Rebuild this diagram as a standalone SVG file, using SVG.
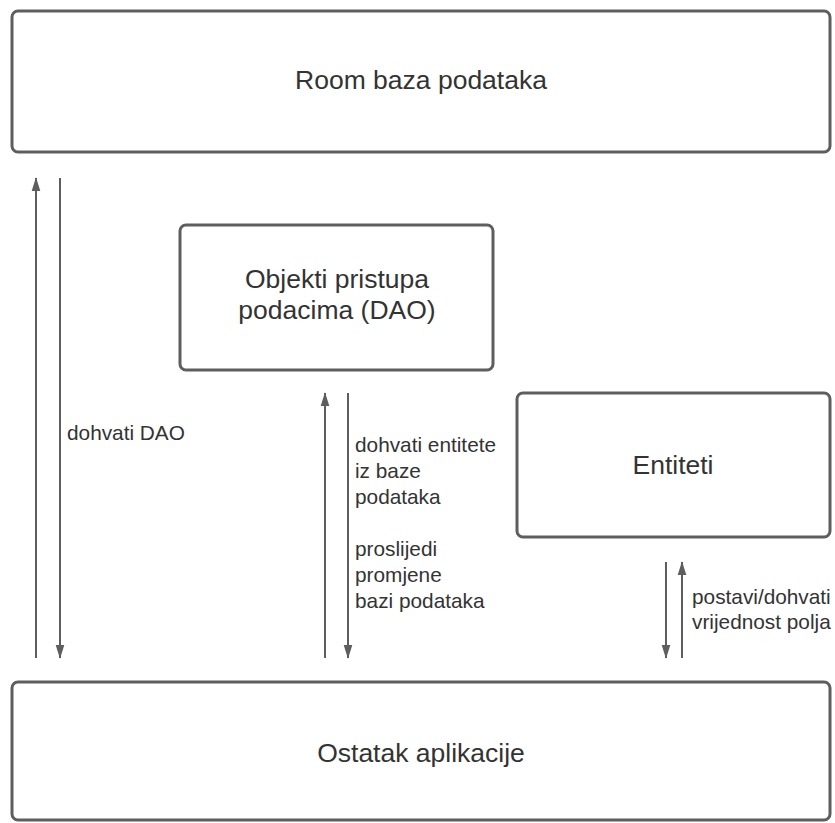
<svg xmlns="http://www.w3.org/2000/svg" width="835" height="823" viewBox="0 0 835 823">
<style>
.box{fill:#fff;stroke:#5e5e5e;stroke-width:3}
.t{font-family:"Liberation Sans",Arial,sans-serif;fill:#333;text-anchor:middle;font-size:26.5px}
.l{font-family:"Liberation Sans",Arial,sans-serif;fill:#333;font-size:20.8px}
.c{stroke:#5e5e5e;stroke-width:2;fill:none}
</style>
<defs>
<marker id="ah" markerUnits="userSpaceOnUse" markerWidth="14" markerHeight="22" viewBox="0 0 22 14" refX="21" refY="7" orient="auto">
<path d="M0,0 L22,7 L0,14 Z" fill="#5e5e5e"/>
</marker>
</defs>
<rect width="835" height="823" fill="#fff"/>
<g id="room"><rect class="box" x="12" y="11" width="818" height="141" rx="6"/><text class="t" x="421" y="89">Room baza podataka</text></g>
<g id="dao"><rect class="box" x="180" y="225" width="313" height="145" rx="6"/><text class="t" x="337" y="288">Objekti pristupa</text><text class="t" x="337" y="319">podacima (DAO)</text></g>
<g id="entiteti"><rect class="box" x="517" y="393" width="313" height="144" rx="6"/><text class="t" x="673" y="474">Entiteti</text></g>
<g id="ostatak"><rect class="box" x="12" y="682" width="818" height="138" rx="6"/><text class="t" x="421" y="762">Ostatak aplikacije</text></g>
<g id="connectors">
<line class="c" x1="36" y1="658" x2="36" y2="178" marker-end="url(#ah)"/>
<line class="c" x1="60" y1="178" x2="60" y2="658" marker-end="url(#ah)"/>
<line class="c" x1="325" y1="658" x2="325" y2="393" marker-end="url(#ah)"/>
<line class="c" x1="348" y1="393" x2="348" y2="658" marker-end="url(#ah)"/>
<line class="c" x1="666" y1="562" x2="666" y2="658" marker-end="url(#ah)"/>
<line class="c" x1="682" y1="658" x2="682" y2="562" marker-end="url(#ah)"/>
<text class="l" x="67" y="440">dohvati DAO</text>
<text class="l" x="355" y="452">dohvati entitete</text>
<text class="l" x="355" y="478">iz baze</text>
<text class="l" x="355" y="504">podataka</text>
<text class="l" x="355" y="556">proslijedi</text>
<text class="l" x="355" y="582">promjene</text>
<text class="l" x="355" y="608">bazi podataka</text>
<text class="l" x="692" y="604">postavi/dohvati</text>
<text class="l" x="692" y="629">vrijednost polja</text>
</g>
</svg>
